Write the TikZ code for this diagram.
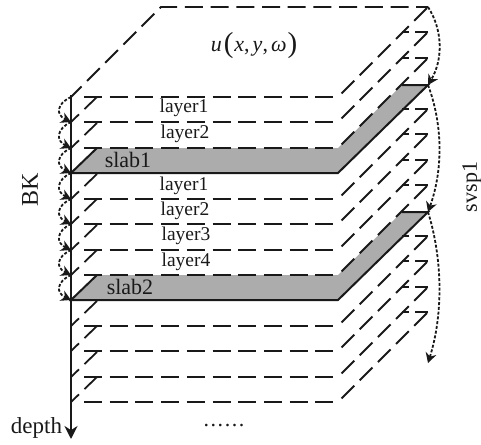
\documentclass[tikz,border=0pt]{standalone}
\usepackage{fontspec}
\setmainfont{Liberation Serif}
\usetikzlibrary{arrows.meta}
\definecolor{ink}{RGB}{25,25,25}
\definecolor{slabgray}{RGB}{172,172,172}
\tikzset{
  x=1pt,y=-1pt,
  dashline/.style={draw=ink,line width=1.8pt,dash pattern=on 18pt off 7.7pt},
  sideline/.style={dashline,dash phase=20.7pt},
  leftline/.style={dashline,dash phase=7pt},
  backline/.style={draw=ink,line width=1.8pt,dash pattern=on 13pt off 6pt},
  solidline/.style={draw=ink,line width=2pt,line join=miter},
  slabfill/.style={fill=slabgray,draw=none},
  looparrow/.style={draw=ink,line width=1.8pt,dash pattern=on 3pt off 1.8pt,-{Stealth[length=10pt,width=11pt]}},
  label/.style={font=\fontsize{19.5}{20}\selectfont,text=ink,inner sep=0pt},
  biglabel/.style={label,font=\fontsize{22}{22}\selectfont},
}
\begin{document}
\begin{tikzpicture}
\useasboundingbox (0,0) rectangle (481,444);
% slab fills
\foreach \y in {173,300}{
  \fill[slabfill] (71,\y) -- (338,\y) -- (428,\y-88) -- (402,\y-88) -- (338,\y-25) -- (97,\y-25) -- cycle;
}
% top plane
\coordinate (tl) at (71,97);
\coordinate (tr) at (338,97);
\coordinate (bl) at (161,7);
\coordinate (br) at (428,7);
\draw[dashline] (84,97) -- (335,97);
\draw[dashline,dash phase=3pt] (tl) -- (bl) -- (br);
\draw[sideline] (tr) -- (br);
% dashed planes
\foreach \y in {122,148,199,224,250,275,326,351,377,402}{
  \draw[dashline] (84,\y) -- (335,\y);
  \draw[leftline] (71,\y) -- (97,\y-25);
  \draw[sideline] (338,\y) -- (428,\y-90);
  \draw[backline] (428,\y-90) -- (402,\y-90);
}
% slab outlines
\foreach \y in {173,300}{
  \draw[solidline] (97,\y-25) -- (71,\y) -- (338,\y) -- (428,\y-88) -- (402,\y-88);
}
% depth axis
\coordinate (axistop) at (71,95);
\coordinate (axisend) at (71,439);
\draw[draw=ink,line width=2.3pt,-{Stealth[length=13pt,width=13pt]}] (axistop) -- (axisend);
% left loops
\foreach \a/\b in {97/122,122/148,148/173,173/199,199/224,224/250,250/275,275/300}{
  \draw[looparrow] (71,\a) .. controls (56,\a+7) and (56,\b-7) .. (71,\b);
}
% right loops
\coordinate (r0) at (428,7);
\coordinate (r1) at (428,85);
\coordinate (r2) at (428,212);
\coordinate (r3) at (428,363);
\draw[looparrow] (r0) .. controls (443,30) and (443,60) .. (r1);
\draw[looparrow] (r1) .. controls (443,125) and (443,170) .. (r2);
\draw[looparrow] (r2) .. controls (443,260) and (443,315) .. (r3);
% labels
\node[label,font=\fontsize{22}{22}\selectfont] (title) at (254,46) {\textit{u}\kern2pt\raisebox{-1pt}{\fontsize{29}{29}\selectfont(}\kern1pt\textit{x},\kern3pt\textit{y},\kern3pt\textit{ω}\kern1pt\raisebox{-1pt}{\fontsize{29}{29}\selectfont)}};
\node[label] (l1a) at (184,108) {layer1};
\node[label] (l2a) at (185,134) {layer2};
\node[biglabel] (s1) at (128,160) {slab1};
\node[label] (l1b) at (184,186) {layer1};
\node[label] (l2b) at (185,211) {layer2};
\node[label] (l3b) at (186,236) {layer3};
\node[label] (l4b) at (186,262) {layer4};
\node[biglabel] (s2) at (130,287) {slab2};
\node[biglabel,rotate=90,font=\fontsize{24}{24}\selectfont] (bk) at (30,190) {BK};
\node[biglabel,rotate=90] (sv) at (472,187) {svsp1};
\node[biglabel,font=\fontsize{23}{23}\selectfont] (dp) at (36.5,428) {depth};
\node[biglabel] (dots) at (224,426) {.\kern1.6pt.\kern1.6pt.\kern1.6pt.\kern1.6pt.\kern1.6pt.};
\end{tikzpicture}
\end{document}
